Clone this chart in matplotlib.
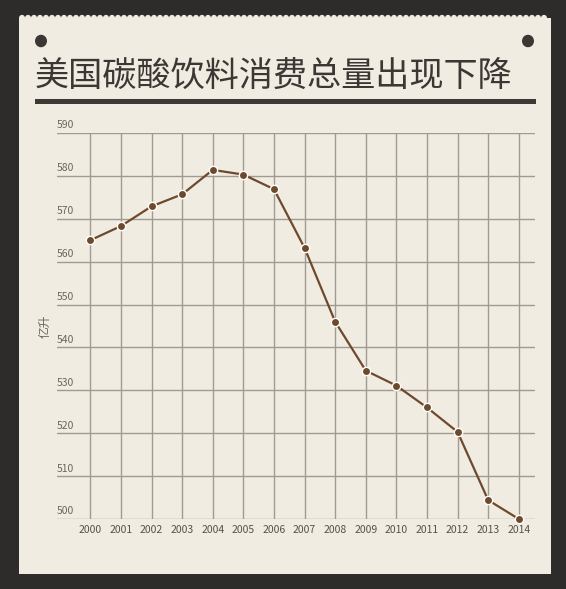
import matplotlib.pyplot as plt
from matplotlib.patches import Rectangle, Circle

plt.rcParams['font.family'] = ['Liberation Sans Narrow', 'Noto Sans CJK SC', 'DejaVu Sans']

years = [2000, 2001, 2002, 2003, 2004, 2005, 2006, 2007,
         2008, 2009, 2010, 2011, 2012, 2013, 2014]
volume = [565.0, 568.3, 572.9, 575.7, 581.4, 580.3, 576.9, 563.2,
          546.0, 534.6, 531.1, 526.0, 520.3, 504.4, 500.0]
yticks = [500, 510, 520, 530, 540, 550, 560, 570, 580, 590]
title = '美国碳酸饮料消费总量出现下降'
ylabel = '亿升'

W, H = 566, 589
fig = plt.figure(figsize=(W / 100, H / 100), dpi=100)
fig.patch.set_facecolor('#2e2c2a')


def px(x, y):
    # pixel coords (origin top-left) -> figure fraction
    return x / W, 1 - y / H


paper = '#f1ece1'
x0, y0 = px(19, 574)
x1, y1 = px(551, 18)
fig.patches.append(Rectangle((x0, y0), x1 - x0, y1 - y0, transform=fig.transFigure,
                             facecolor=paper, edgecolor='none', zorder=-2))
# scalloped top edge
for i in range(int((551 - 19) / 6)):
    cx, cy = px(22 + i * 6, 18)
    fig.patches.append(Circle((cx, cy), 3 / W, transform=fig.transFigure,
                              facecolor=paper, edgecolor='none', zorder=-2))

# pins
for xx in (41, 528):
    cx, cy = px(xx, 41)
    fig.patches.append(Circle((cx, cy), 6 / W, transform=fig.transFigure,
                              facecolor='#3b3733', edgecolor='none', zorder=-1))

# title and underline
tx, ty = px(35, 76)
fig.text(tx, ty, title, family=['Noto Sans CJK SC', 'DejaVu Sans'], fontsize=24.6,
         color='#3b3834', ha='left', va='center')
fig.patches.append(Rectangle(px(35, 104), (536 - 35) / W, 5 / H, transform=fig.transFigure,
                             facecolor='#3c3a36', edgecolor='none', zorder=-1))

# chart
left, bottom = px(57, 519)
right, top = px(535, 133)
ax = fig.add_axes([left, bottom, right - left, top - bottom])
ax.set_zorder(2)
ax.set_facecolor('none')
ax.set_xlim(1998.91, 2014.53)
ax.set_ylim(500, 590)
for s in ax.spines.values():
    s.set_visible(False)
ax.tick_params(length=0)
ax.set_yticks(yticks)
ax.set_yticklabels([])
ax.set_xticks(years)
ax.set_xticklabels([str(y) for y in years], fontsize=7.5, color='#55514b')
ax.tick_params(axis='x', pad=4)

for v in yticks:
    ax.axhline(v, color='#a09b92', lw=1, zorder=1)
    ax.text(0.0, v + 0.6, str(v), transform=ax.get_yaxis_transform(),
            fontsize=7.5, color='#6a665f', ha='left', va='bottom')
for yr in years:
    ax.plot([yr, yr], [500, 590], color='#a09b92', lw=1, zorder=1)

ax.plot(years, volume, color='#6e4a2d', lw=1.6, marker='o', markersize=6,
        markerfacecolor='#6e4a2d', markeredgecolor='white', markeredgewidth=1,
        zorder=3, clip_on=False)

lx, ly = px(45, 326)
fig.text(lx, ly, ylabel, family=['Noto Sans CJK SC', 'DejaVu Sans'], fontsize=8.5,
         color='#6a665f', rotation=90, ha='center', va='center')

fig.savefig('out.png', dpi=100, facecolor=fig.get_facecolor())
